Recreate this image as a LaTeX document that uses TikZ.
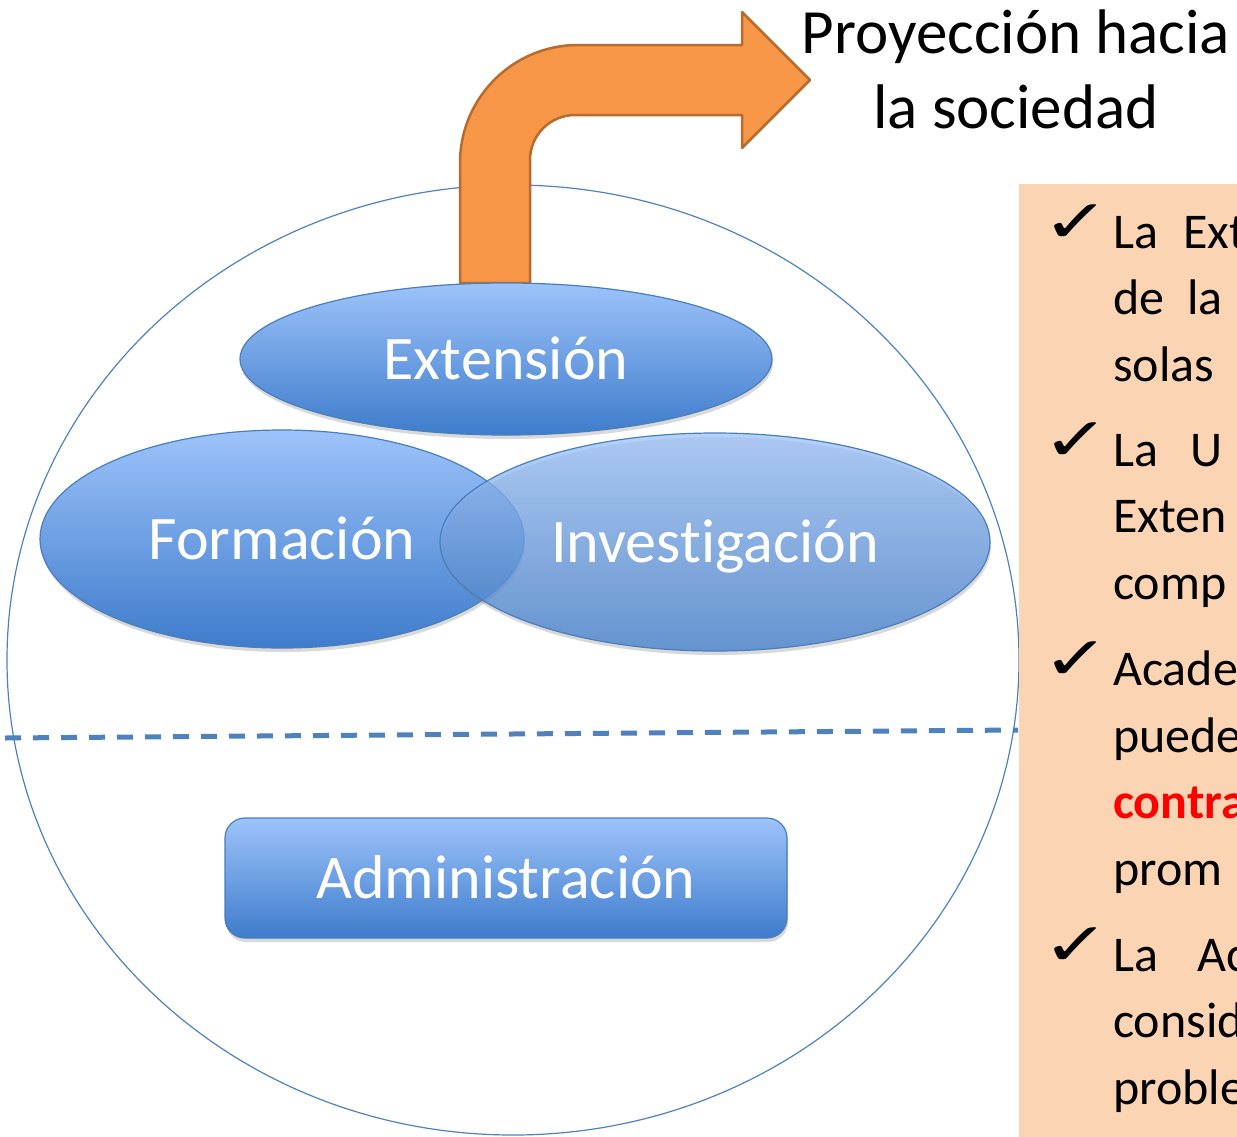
\documentclass[tikz,border=0pt]{standalone}
\usepackage{fontspec}
\setmainfont{Carlito}[Ligatures=NoCommon]
\newfontfamily\symfont{DejaVu Sans}
\usetikzlibrary{shapes.geometric,shadows}

\definecolor{blueTop}{RGB}{157,195,250}
\definecolor{blueBot}{RGB}{62,124,204}
\definecolor{blueLine}{RGB}{74,126,187}
\definecolor{ringLine}{RGB}{79,129,189}
\definecolor{arrowFill}{RGB}{247,150,70}
\definecolor{arrowLine}{RGB}{182,108,49}
\definecolor{panelFill}{RGB}{251,212,180}

\newcommand{\tick}{\scalebox{1.35}[1]{✓}}

\begin{document}
\begin{tikzpicture}[x=1pt,y=-1pt,
    every node/.style={inner sep=0pt},
    blob/.style={draw=blueLine, line width=1.2pt, top color=blueTop, bottom color=blueBot,
      text=white, font=\fontsize{62}{75}\selectfont, text height=40pt, text depth=0pt,
      drop shadow={opacity=0.3, shadow xshift=1pt, shadow yshift=-4pt}},
    oval/.style={blob, ellipse},
    txt/.style={anchor=base west, font=\fontsize{50}{62}\selectfont},
    chk/.style={anchor=base west, font=\symfont\fontsize{60}{70}\selectfont},
    tit/.style={anchor=base, font=\fontsize{63}{75}\selectfont}]
    \useasboundingbox (0,0) rectangle (1237,1136);

    % outer ring and split line
    \node[ellipse, draw=ringLine, line width=1.2pt, minimum width=1012pt, minimum height=950pt] (univ) at (513,660) {};
    \coordinate (dl) at (5,738);
    \coordinate (dr) at (1018,730);
    \draw[ringLine, line width=5pt, dash pattern=on 16pt off 12pt] (dl) -- (dr);

    % bent arrow
    \draw[fill=arrowFill, draw=arrowLine, line width=2.5pt, line join=round]
      (460,283) -- (460,163) arc[start angle=180, end angle=90, radius=118pt]
      -- (742,45) -- (742,12) -- (810,80) -- (742,148) -- (742,115) -- (575,115)
      arc[start angle=90, end angle=180, radius=45pt] -- (530,283) -- cycle;
    \node[tit] (tit1) at (1016,53) {Proyección hacia};
    \node[tit] (tit2) at (1016,128) {la sociedad};

    \node[oval, minimum width=532pt, minimum height=152pt] (ext) at (506,359) {Extensión};
    \node[oval, minimum width=484pt, minimum height=218pt] (form) at (282,539) {Formación};
    \node[oval, minimum width=550pt, minimum height=218pt, fill opacity=0.75, text opacity=1] (inv) at (715,542) {Investigación};
    \node[blob, rectangle, rounded corners=20pt, minimum width=562pt, minimum height=120pt] (adm) at (506,878) {Administración};

    % side panel
    \fill[panelFill] (1019,184) rectangle (1240,1140);
    \node[chk] (c1) at (1042,242) {\tick};
    \node[chk] (c2) at (1042,460) {\tick};
    \node[chk] (c3) at (1042,679) {\tick};
    \node[chk] (c4) at (1042,965) {\tick};
    \node[txt] (l1) at (1113,248) {La\hspace{25pt}Ext};
    \node[txt] (l2) at (1113,314) {de\hspace{23pt}la};
    \node[txt] (l3) at (1113,381) {solas};
    \node[txt] (l4) at (1113,466) {La\hspace{32pt}U};
    \node[txt] (l5) at (1113,532) {Exten};
    \node[txt] (l6) at (1113,599) {comp};
    \node[txt] (l7) at (1113,685) {Acade};
    \node[txt] (l8) at (1113,752) {puede};
    \node[txt, text=red, font=\bfseries\fontsize{50}{62}\selectfont] (l9) at (1113,818) {contra};
    \node[txt] (l10) at (1113,885) {prom};
    \node[txt] (l11) at (1113,971) {La\hspace{39pt}Ac};
    \node[txt] (l12) at (1113,1037) {consid};
    \node[txt] (l13) at (1113,1104) {proble};
\end{tikzpicture}
\end{document}
